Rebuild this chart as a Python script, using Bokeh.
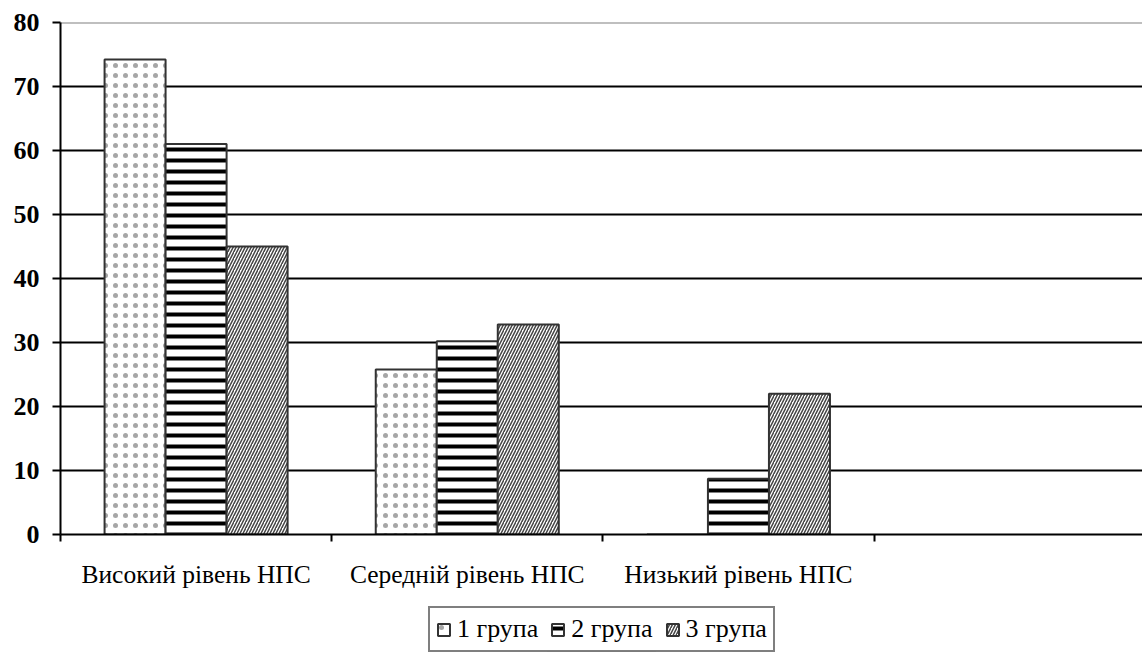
from bokeh.plotting import figure
from bokeh.layouts import column
from bokeh.models import Range1d, FixedTicker, Legend, LegendItem, Span
from bokeh.embed import file_html
from bokeh.resources import INLINE
import numpy as np

categories = ["Високий рівень НПС", "Середній рівень НПС", "Низький рівень НПС"]
series_names = ["1 група", "2 група", "3 група"]
group1 = [74.2, 25.8, 0.0]
group2 = [61.0, 30.2, 8.7]
group3 = [45.0, 32.8, 22.0]
y_ticks = [0, 10, 20, 30, 40, 50, 60, 70, 80]

FONT = "Liberation Serif"
W = 1142
n_slots = 3.99  # visible category slots (3 filled + empty 4th)

def styles():
    return [
        dict(hatch_pattern="dot", hatch_color="#a6a6a6", hatch_scale=10, hatch_weight=1),
        dict(hatch_pattern="horizontal_line", hatch_color="black", hatch_scale=11, hatch_weight=4),
        dict(hatch_pattern="right_diagonal_line", hatch_color="#444444", hatch_scale=6, hatch_weight=1.5),
    ]

p = figure(width=W, height=600, output_backend="svg", toolbar_location=None,
           x_range=Range1d(0, n_slots), y_range=Range1d(0, 80),
           min_border_left=60, min_border_right=0, min_border_top=22,
           min_border_bottom=66, background_fill_color="white",
           border_fill_color="white")
p.outline_line_color = None
p.xgrid.visible = False
p.ygrid.ticker = FixedTicker(ticks=y_ticks[:-1])
p.ygrid.grid_line_color = "black"
p.ygrid.grid_line_width = 2
p.add_layout(Span(location=y_ticks[-1], dimension="width", line_color="#808080",
                  line_width=2, level="underlay"))

bar_w = 0.225
centers = np.arange(len(categories)) + 0.5
for k, (vals, st) in enumerate(zip([group1, group2, group3], styles())):
    xs = centers + (k - 1) * bar_w
    p.vbar(x=xs, top=vals, bottom=0, width=bar_w, fill_color="white",
           line_color="#333333", line_width=2, **st)

xa = p.xaxis[0]
xa.ticker = FixedTicker(ticks=list(centers), minor_ticks=list(range(len(categories) + 1)))
xa.major_label_overrides = {float(c): lab for c, lab in zip(centers, categories)}
xa.major_tick_out = 0
xa.major_tick_in = 0
xa.minor_tick_out = 7
xa.minor_tick_in = 0
xa.minor_tick_line_color = "black"
xa.minor_tick_line_width = 2
xa.axis_line_width = 2
xa.axis_line_color = "black"
xa.major_label_standoff = 18
xa.major_label_text_font = FONT
xa.major_label_text_font_size = "25.5px"
xa.major_label_text_color = "black"

ya = p.yaxis[0]
ya.ticker = FixedTicker(ticks=y_ticks)
ya.minor_tick_line_color = None
ya.major_tick_out = 8
ya.major_tick_in = 0
ya.major_tick_line_width = 2
ya.major_tick_line_color = "black"
ya.axis_line_width = 2
ya.axis_line_color = "black"
ya.major_label_standoff = 13
ya.major_label_text_font = FONT
ya.major_label_text_font_size = "26px"
ya.major_label_text_font_style = "bold"
ya.major_label_text_color = "black"

# legend strip below the chart
q = figure(width=W, height=52, output_backend="svg", toolbar_location=None,
           x_range=Range1d(0, 1), y_range=Range1d(0, 1),
           min_border=0, background_fill_color="white", border_fill_color="white")
q.axis.visible = False
q.grid.visible = False
q.outline_line_color = None
items = []
for name, st in zip(series_names, styles()):
    r = q.vbar(x=[0.5], top=[-5], bottom=[-6], width=0.1, fill_color="white",
               line_color="#333333", line_width=2, **st)
    items.append(LegendItem(label=name, renderers=[r]))
legend = Legend(items=items, orientation="horizontal", location=(368, 0),
                label_text_font=FONT, label_text_font_size="26px",
                label_text_color="black", glyph_width=15, glyph_height=15,
                label_standoff=6, spacing=12, padding=6, margin=0,
                border_line_color="black", border_line_width=2,
                background_fill_color="white", label_height=24)
q.add_layout(legend, "center")

layout = column(p, q, spacing=0)
open("out.html", "w").write(file_html(layout, INLINE))
